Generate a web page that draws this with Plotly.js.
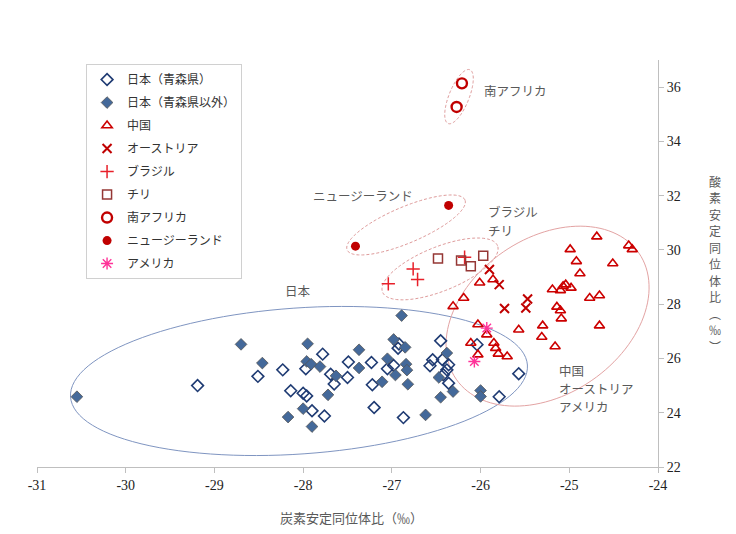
<!DOCTYPE html>
<html><head><meta charset="utf-8">
<script src="https://cdn.plot.ly/plotly-3.0.1.min.js"></script>
<style>html,body{margin:0;padding:0;background:#fff}#chart{width:736px;height:534px}</style>
</head><body><div id="chart"></div>
<script>
// ---- data (carbon δ13C ‰, oxygen δ18O ‰) ----
const aomoriX = [-29.19,-28.51,-28.23,-28.14,-28.00,-27.96,-27.90,-27.76,-27.78,-27.97,-27.69,-27.65,-27.49,-27.50,-27.23,-27.22,-27.20,-27.05,-26.98,-26.93,-26.92,-26.87,-26.45,-26.57,-26.54,-26.43,-26.36,-26.38,-26.42,-26.36,-26.04,-25.57,-25.79];
const aomoriY = [25.00,25.34,25.58,24.81,24.72,24.62,24.07,23.88,26.16,25.62,25.42,25.06,25.87,25.30,25.85,25.03,24.19,25.62,25.74,26.38,26.53,23.82,26.65,25.73,25.95,25.95,25.77,25.58,25.40,25.09,26.51,25.44,24.59];
const otherJpX = [-30.55,-28.70,-28.46,-27.95,-27.96,-27.91,-27.81,-27.37,-27.37,-27.05,-26.98,-26.89,-26.85,-26.84,-26.83,-26.96,-27.11,-26.82,-27.63,-27.72,-28.00,-28.17,-27.90,-26.62,-26.38,-26.47,-26.45,-26.31,-26.00,-26.00];
const otherJpY = [24.59,26.52,25.83,26.54,25.89,25.79,25.70,26.32,25.65,25.99,26.70,27.58,26.41,25.79,25.57,25.39,25.14,25.05,25.36,24.66,24.15,23.84,23.49,23.92,26.20,25.30,24.57,24.78,24.82,24.60];
const chinaX = [-24.69,-24.99,-24.92,-24.51,-24.33,-24.29,-24.88,-25.19,-25.10,-25.07,-25.04,-24.98,-24.77,-24.66,-25.14,-25.10,-25.09,-24.66,-25.30,-25.31,-25.16,-25.57,-25.86,-26.01,-26.19,-26.31,-26.03,-25.93,-26.11,-25.85,-25.83,-25.80,-25.70,-26.03];
const chinaY = [30.49,30.02,29.58,29.50,30.16,30.02,29.13,28.54,28.51,28.66,28.72,28.60,28.23,28.32,27.90,27.77,27.47,27.21,27.21,26.79,26.44,27.06,28.91,28.79,28.23,27.92,27.25,26.88,26.57,26.57,26.38,26.17,26.07,26.14];
const austriaX = [-25.90,-25.79,-25.73,-25.47,-25.49];
const austriaY = [29.28,28.72,27.84,28.19,27.86];
const brazilX = [-27.04,-26.76,-26.71,-26.18];
const brazilY = [28.75,29.30,28.91,29.73];
const chileX = [-26.48,-26.22,-26.11,-25.97];
const chileY = [29.68,29.61,29.40,29.79];
const safricaX = [-26.21,-26.27];
const safricaY = [36.14,35.27];
const nzX = [-26.36,-27.41];
const nzY = [31.64,30.14];
const usaX = [-25.93,-26.07];
const usaY = [27.12,25.89];

const seriesNames = ['日本（青森県）','日本（青森県以外）','中国','オーストリア','ブラジル','チリ','南アフリカ','ニュージーランド','アメリカ'];
const xTickVals = [-31,-30,-29,-28,-27,-26,-25,-24];
const yTickVals = [22,24,26,28,30,32,34,36];
const xTitle = '炭素安定同位体比（‰）';
const yTitleChars = ['酸','素','安','定','同','位','体','比','︵','‰','︶'];

// ---- layout geometry ----
const W = 736, H = 534, M = {l:37, r:78, t:60, b:67};
const xRange = [-31,-24], yRange = [22,37];
const plotW = W - M.l - M.r, plotH = H - M.t - M.b;
const pxX = plotW / (xRange[1]-xRange[0]);
const pxY = plotH / (yRange[1]-yRange[0]);

function mk(name, x, y, marker){
  return {type:'scatter', mode:'markers', name, x, y, marker, legendgroup:name, hoverinfo:'x+y'};
}
const traces = [
  mk(seriesNames[0], aomoriX, aomoriY, {symbol:'diamond-open', size:9, color:'#1f3b73', line:{width:1.6, color:'#1f3b73'}}),
  mk(seriesNames[1], otherJpX, otherJpY, {symbol:'diamond', size:9, color:'#44699a', line:{width:0.8, color:'#555555'}}),
  mk(seriesNames[2], chinaX, chinaY, {symbol:'triangle-up-open', size:9, color:'#cc0000', line:{width:1.6, color:'#cc0000'}}),
  mk(seriesNames[3], austriaX, austriaY, {symbol:'x-thin-open', size:9, color:'#c00000', line:{width:2, color:'#c00000'}}),
  mk(seriesNames[4], brazilX, brazilY, {symbol:'cross-thin-open', size:9.5, color:'#e8202a', line:{width:1.5, color:'#e8202a'}}),
  mk(seriesNames[5], chileX, chileY, {symbol:'square-open', size:9, color:'#953735', line:{width:1.5, color:'#953735'}}),
  mk(seriesNames[6], safricaX, safricaY, {symbol:'circle-open', size:10, color:'#c00000', line:{width:2.4, color:'#c00000'}}),
  mk(seriesNames[7], nzX, nzY, {symbol:'circle', size:9, color:'#c00000', line:{width:0}}),
  mk(seriesNames[8], usaX, usaY, {symbol:'asterisk-open', size:10, color:'#ff3399', line:{width:1.4, color:'#ff3399'}})
];

// ---- group ellipses: centre in data units, semi-axes in px, tilt in degrees ----
const ellipses = [
  {cx:-28.047, cy:25.17, a:229, b:73, ang:4,  color:'#7f95c1', dash:'solid'},
  {cx:-25.245, cy:27.56, a:111, b:78, ang:34.6, color:'#e3a3a3', dash:'solid'},
  {cx:-26.457, cy:29.30, a:62,  b:22, ang:22, color:'#de9a9a', dash:'3px,2px'},
  {cx:-26.84,  cy:30.92, a:64,  b:18, ang:23, color:'#de9a9a', dash:'3px,2px'},
  {cx:-26.243, cy:35.65, a:29,  b:10, ang:68, color:'#de9a9a', dash:'3px,2px'}
];
function ellipsePath(e){
  const th = e.ang*Math.PI/180, n = 120; let p = '';
  for(let i=0;i<=n;i++){
    const t = 2*Math.PI*i/n;
    const dx = e.a*Math.cos(t)*Math.cos(th) - e.b*Math.sin(t)*Math.sin(th);
    const dy = e.a*Math.cos(t)*Math.sin(th) + e.b*Math.sin(t)*Math.cos(th);
    p += (i===0?'M':'L') + (e.cx+dx/pxX).toFixed(4) + ',' + (e.cy+dy/pxY).toFixed(4);
  }
  return p + 'Z';
}
const shapes = ellipses.map(e => ({type:'path', xref:'x', yref:'y', path:ellipsePath(e), line:{color:e.color, width:1, dash:e.dash}, layer:'below'}));

const labFont = {family:'Noto Sans CJK JP, sans-serif', size:12.5, color:'#595959'};
const titleFont = {family:'Noto Sans CJK JP, sans-serif', size:13, color:'#595959'};
const ann = (text,x,y,xanchor) => ({text, x, y, xref:'x', yref:'y', showarrow:false, xanchor, yanchor:'middle', borderpad:0, font:labFont, align:'left'});
const annotations = [
  ann('南アフリカ', -25.97, 35.89, 'left'),
  ann('ニュージーランド', -27.33, 32.02, 'center'),
  ann('ブラジル', -25.93, 31.41, 'left'),
  ann('チリ', -25.93, 30.73, 'left'),
  ann('日本', -28.06, 28.5, 'center'),
  ann('中国', -25.13, 25.57, 'left'),
  ann('オーストリア', -25.13, 24.90, 'left'),
  ann('アメリカ', -25.13, 24.23, 'left'),
  {text:xTitle, xref:'paper', yref:'paper', x:0.507, y:-0.125, showarrow:false, xanchor:'center', yanchor:'middle', font:titleFont}
];
// vertical (stacked) y-axis title, centred on the axis
const yTitleStep = 16.5, yTitleCenter = 0.5, yTitleX = (715 - M.l) / plotW;
const yTitleFont = {family:'Noto Sans CJK JP, sans-serif', size:12, color:'#595959'};
yTitleChars.forEach((ch, i) => {
  const off = (i - (yTitleChars.length-1)/2) * yTitleStep / plotH;
  annotations.push({text:ch, xref:'paper', yref:'paper', x:yTitleX, y:yTitleCenter - off, showarrow:false,
    xanchor:'center', yanchor:'middle', borderpad:0, font:yTitleFont});
});

const tickFont = {family:'Liberation Serif, Times New Roman, serif', size:14, color:'#222'};
const layout = {
  width:W, height:H, margin:M, paper_bgcolor:'#fff', plot_bgcolor:'#fff',
  showlegend:true,
  legend:{x:0.079, y:0.99, xanchor:'left', yanchor:'top', bgcolor:'#fff', bordercolor:'#d0d0d0', borderwidth:1,
          font:{family:'Noto Sans CJK JP, sans-serif', size:12, color:'#333'}, traceorder:'grouped', tracegroupgap:4},
  xaxis:{range:xRange, tickvals:xTickVals, ticktext:xTickVals.map(String), showgrid:false, zeroline:false, showline:true, linecolor:'#bfbfbf',
         ticks:'outside', ticklen:5, tickcolor:'#bfbfbf', tickfont:tickFont, fixedrange:true},
  yaxis:{range:yRange, side:'right', tickvals:yTickVals, ticktext:yTickVals.map(String), showgrid:false, zeroline:false, showline:true, linecolor:'#bfbfbf',
         ticks:'outside', ticklen:5, tickcolor:'#bfbfbf', tickfont:tickFont, fixedrange:true},
  shapes, annotations
};
Plotly.newPlot('chart', traces, layout, {displayModeBar:false, staticPlot:true});
</script></body></html>
